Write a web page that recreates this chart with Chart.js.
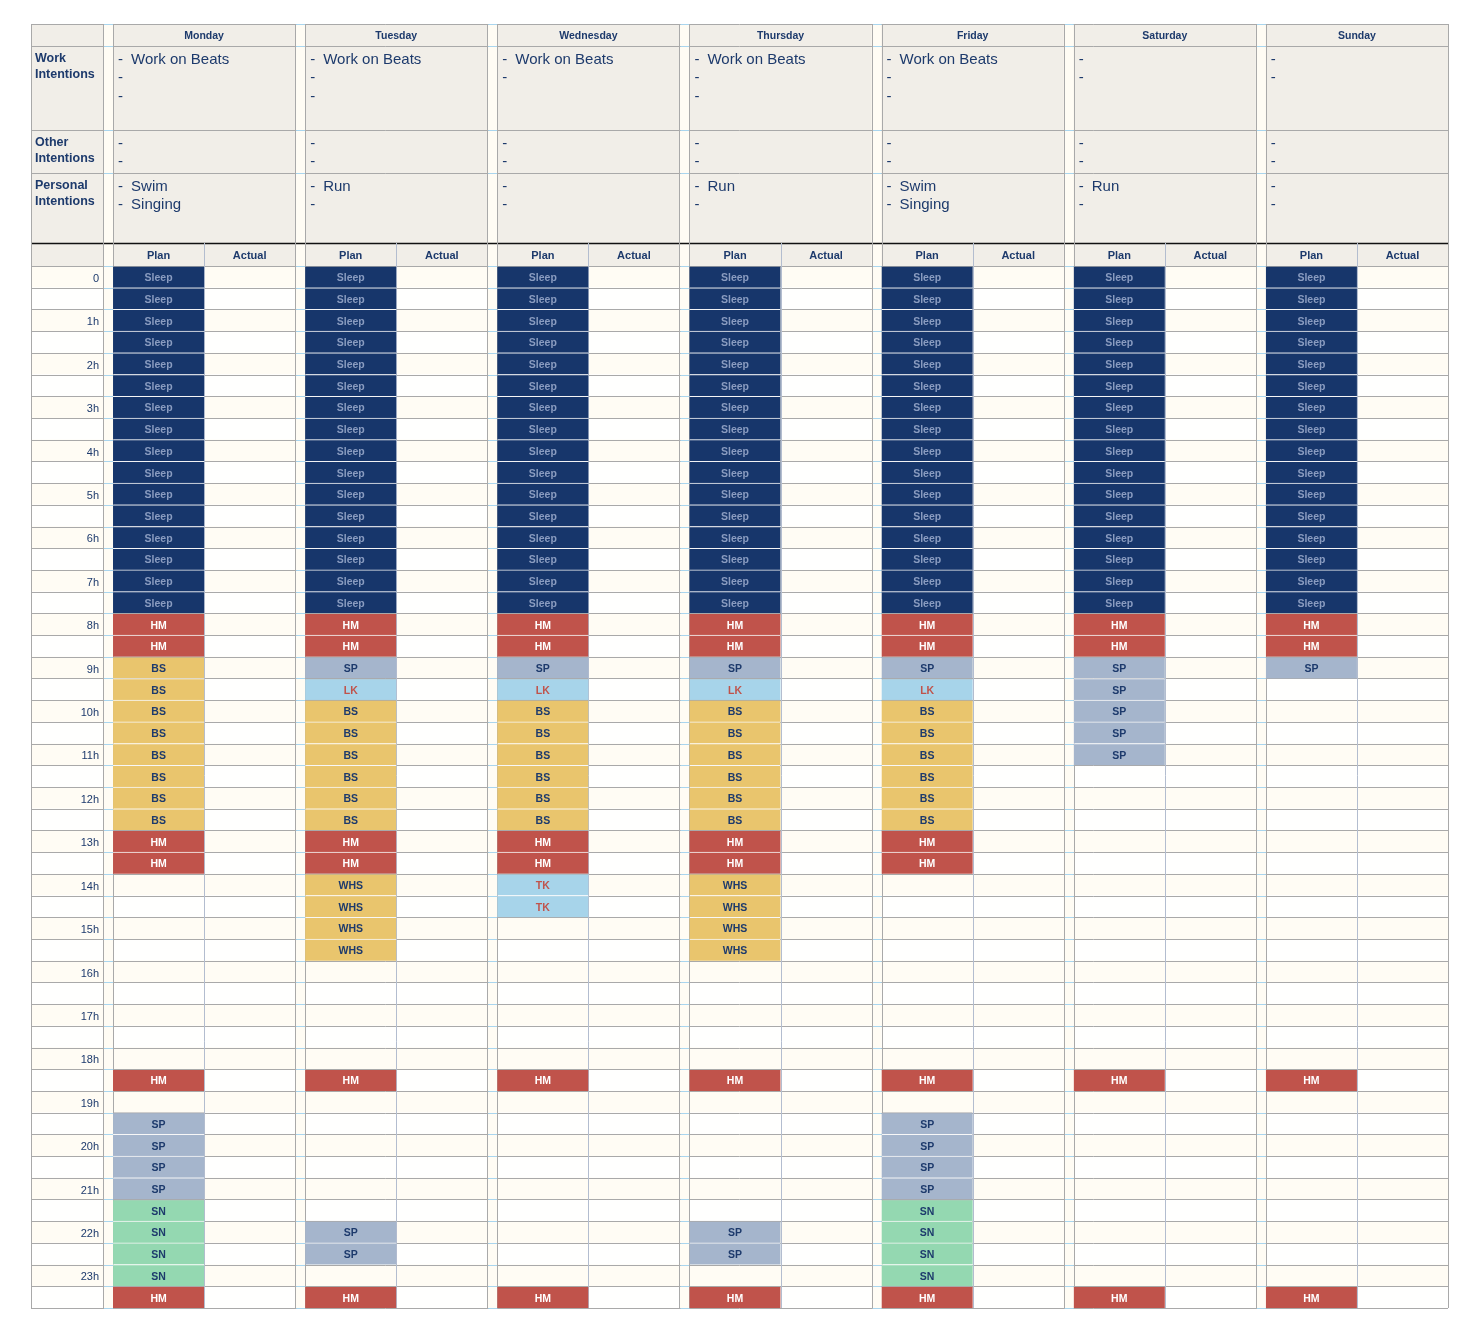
<!DOCTYPE html>
<html>
<head>
<meta charset="utf-8">
<title>Weekly planner</title>
<script src="https://cdn.jsdelivr.net/npm/chart.js@4.4.0/dist/chart.umd.min.js"></script>
<style>
  body { margin: 0; background: #fff; }
  #wrap { width: 1484px; height: 1338px; }
</style>
</head>
<body>
<div id="wrap"><canvas id="planner" width="1484" height="1338"></canvas></div>
<script>
// Data
const days = ['Monday', 'Tuesday', 'Wednesday', 'Thursday', 'Friday', 'Saturday', 'Sunday'];
const hourTicks = ['0', '1h', '2h', '3h', '4h', '5h', '6h', '7h', '8h', '9h', '10h', '11h',
  '12h', '13h', '14h', '15h', '16h', '17h', '18h', '19h', '20h', '21h', '22h', '23h'];
const sectionLabels = [['Work', 'Intentions'], ['Other', 'Intentions'], ['Personal', 'Intentions']];
const columnLabels = ['Plan', 'Actual'];

const workIntentions = [
  ['Work on Beats', '', ''], ['Work on Beats', '', ''], ['Work on Beats', ''],
  ['Work on Beats', '', ''], ['Work on Beats', '', ''], ['', ''], ['', '']
];
const otherIntentions = [['', ''], ['', ''], ['', ''], ['', ''], ['', ''], ['', ''], ['', '']];
const personalIntentions = [
  ['Swim', 'Singing'], ['Run', ''], ['', ''], ['Run', ''], ['Swim', 'Singing'], ['Run', ''], ['', '']
];

// plan per half hour, 48 slots from 0:00
const mondayPlan = [
  'Sleep', 'Sleep', 'Sleep', 'Sleep', 'Sleep', 'Sleep', 'Sleep', 'Sleep',
  'Sleep', 'Sleep', 'Sleep', 'Sleep', 'Sleep', 'Sleep', 'Sleep', 'Sleep',
  'HM', 'HM', 'BS', 'BS', 'BS', 'BS', 'BS', 'BS',
  'BS', 'BS', 'HM', 'HM', '', '', '', '',
  '', '', '', '', '', 'HM', '', 'SP',
  'SP', 'SP', 'SP', 'SN', 'SN', 'SN', 'SN', 'HM'
];
const tuesdayPlan = [
  'Sleep', 'Sleep', 'Sleep', 'Sleep', 'Sleep', 'Sleep', 'Sleep', 'Sleep',
  'Sleep', 'Sleep', 'Sleep', 'Sleep', 'Sleep', 'Sleep', 'Sleep', 'Sleep',
  'HM', 'HM', 'SP', 'LK', 'BS', 'BS', 'BS', 'BS',
  'BS', 'BS', 'HM', 'HM', 'WHS', 'WHS', 'WHS', 'WHS',
  '', '', '', '', '', 'HM', '', '',
  '', '', '', '', 'SP', 'SP', '', 'HM'
];
const wednesdayPlan = [
  'Sleep', 'Sleep', 'Sleep', 'Sleep', 'Sleep', 'Sleep', 'Sleep', 'Sleep',
  'Sleep', 'Sleep', 'Sleep', 'Sleep', 'Sleep', 'Sleep', 'Sleep', 'Sleep',
  'HM', 'HM', 'SP', 'LK', 'BS', 'BS', 'BS', 'BS',
  'BS', 'BS', 'HM', 'HM', 'TK', 'TK', '', '',
  '', '', '', '', '', 'HM', '', '',
  '', '', '', '', '', '', '', 'HM'
];
const thursdayPlan = [
  'Sleep', 'Sleep', 'Sleep', 'Sleep', 'Sleep', 'Sleep', 'Sleep', 'Sleep',
  'Sleep', 'Sleep', 'Sleep', 'Sleep', 'Sleep', 'Sleep', 'Sleep', 'Sleep',
  'HM', 'HM', 'SP', 'LK', 'BS', 'BS', 'BS', 'BS',
  'BS', 'BS', 'HM', 'HM', 'WHS', 'WHS', 'WHS', 'WHS',
  '', '', '', '', '', 'HM', '', '',
  '', '', '', '', 'SP', 'SP', '', 'HM'
];
const fridayPlan = [
  'Sleep', 'Sleep', 'Sleep', 'Sleep', 'Sleep', 'Sleep', 'Sleep', 'Sleep',
  'Sleep', 'Sleep', 'Sleep', 'Sleep', 'Sleep', 'Sleep', 'Sleep', 'Sleep',
  'HM', 'HM', 'SP', 'LK', 'BS', 'BS', 'BS', 'BS',
  'BS', 'BS', 'HM', 'HM', '', '', '', '',
  '', '', '', '', '', 'HM', '', 'SP',
  'SP', 'SP', 'SP', 'SN', 'SN', 'SN', 'SN', 'HM'
];
const saturdayPlan = [
  'Sleep', 'Sleep', 'Sleep', 'Sleep', 'Sleep', 'Sleep', 'Sleep', 'Sleep',
  'Sleep', 'Sleep', 'Sleep', 'Sleep', 'Sleep', 'Sleep', 'Sleep', 'Sleep',
  'HM', 'HM', 'SP', 'SP', 'SP', 'SP', 'SP', '',
  '', '', '', '', '', '', '', '',
  '', '', '', '', '', 'HM', '', '',
  '', '', '', '', '', '', '', 'HM'
];
const sundayPlan = [
  'Sleep', 'Sleep', 'Sleep', 'Sleep', 'Sleep', 'Sleep', 'Sleep', 'Sleep',
  'Sleep', 'Sleep', 'Sleep', 'Sleep', 'Sleep', 'Sleep', 'Sleep', 'Sleep',
  'HM', 'HM', 'SP', '', '', '', '', '',
  '', '', '', '', '', '', '', '',
  '', '', '', '', '', 'HM', '', '',
  '', '', '', '', '', '', '', 'HM'
];
const weekPlan = [mondayPlan, tuesdayPlan, wednesdayPlan, thursdayPlan, fridayPlan, saturdayPlan, sundayPlan];

// Layout / styles
const LABEL_W = 72, GAP_W = 10, CELL_W = 91;
const HEAD_ROWS = [22, 84, 43, 70, 23];
const FONT = '"Liberation Sans", Arial, sans-serif';
const NAVY = '#1d3a6c';
const HEAD_BG = '#f1eee8';
const CREAM = '#fffcf4';
const WHITE = '#fffffe';
const GRID = '#a9a9a9';
const BLUE_LINE = '#a9d5ee';
const SPLIT_LINE = '#b3bdcf';

const codeStyle = {
  Sleep: { fill: '#17366b', text: '#8a9cc0' },
  HM: { fill: '#c0534b', text: '#ffffff' },
  BS: { fill: '#e9c56d', text: NAVY },
  WHS: { fill: '#e9c56d', text: NAVY },
  SP: { fill: '#a5b5cc', text: NAVY },
  LK: { fill: '#a7d4ea', text: '#c0534b' },
  TK: { fill: '#a7d4ea', text: '#c0534b' },
  SN: { fill: '#94d8b1', text: NAVY }
};

const dayLeft = d => LABEL_W + GAP_W + d * (2 * CELL_W + GAP_W);
const slotIds = [];
hourTicks.forEach(h => { slotIds.push(h); slotIds.push(h + ':30'); });

const datasets = weekPlan.map((plan, d) => ({
  label: days[d],
  data: plan.map(c => c ? [dayLeft(d), dayLeft(d) + CELL_W] : null),
  backgroundColor: plan.map(c => c ? codeStyle[c].fill : 'transparent'),
  borderColor: plan.map((c, i) => (i > 0 && plan[i - 1] === c) ? 'rgba(255,255,255,0.9)' : GRID),
  borderWidth: { top: 1, bottom: 0, left: 0, right: 0 },
  borderSkipped: false,
  grouped: false,
  barPercentage: 1,
  categoryPercentage: 1
}));

function hLine(ctx, x1, x2, y, color) {
  ctx.strokeStyle = color;
  ctx.beginPath();
  ctx.moveTo(x1, Math.round(y) + 0.5);
  ctx.lineTo(x2, Math.round(y) + 0.5);
  ctx.stroke();
}
function vLine(ctx, x, y1, y2, color) {
  ctx.strokeStyle = color;
  ctx.beginPath();
  ctx.moveTo(Math.round(x) + 0.5, y1);
  ctx.lineTo(Math.round(x) + 0.5, y2);
  ctx.stroke();
}

const tablePlugin = {
  id: 'plannerTable',
  beforeDatasetsDraw(chart) {
    const { ctx, chartArea: a, scales: { x, y } } = chart;
    const px = v => x.getPixelForValue(v);
    const band = (a.bottom - a.top) / slotIds.length;
    const headTop = a.top - HEAD_ROWS.reduce((s, h) => s + h, 0);
    const gaps = [[LABEL_W, LABEL_W + GAP_W]];
    for (let d = 0; d < days.length - 1; d++) gaps.push([dayLeft(d) + 2 * CELL_W, dayLeft(d + 1)]);

    ctx.save();
    ctx.lineWidth = 1;

    // header background
    ctx.fillStyle = HEAD_BG;
    ctx.fillRect(a.left, headTop, a.right - a.left, a.top - headTop);

    // time rows background
    slotIds.forEach((s, i) => {
      ctx.fillStyle = i % 2 === 0 ? CREAM : WHITE;
      ctx.fillRect(a.left, y.getPixelForValue(i) - band / 2, a.right - a.left, band);
    });
    gaps.forEach(([g0, g1]) => {
      ctx.fillStyle = CREAM;
      ctx.fillRect(px(g0), headTop, px(g1) - px(g0), a.bottom - headTop);
    });

    // horizontal lines
    const rowEdges = [headTop];
    HEAD_ROWS.reduce((acc, h) => { rowEdges.push(acc + h); return acc + h; }, headTop);
    for (let i = 1; i <= slotIds.length; i++) rowEdges.push(y.getPixelForValue(i - 1) + band / 2);
    rowEdges.forEach(ry => {
      hLine(ctx, a.left, a.right, ry, GRID);
      gaps.forEach(([g0, g1]) => hLine(ctx, px(g0) + 1, px(g1), ry, BLUE_LINE));
    });
    // heavy line over the Plan / Actual row
    ctx.lineWidth = 1.4;
    hLine(ctx, a.left, a.right, a.top - HEAD_ROWS[4], '#111111');
    ctx.lineWidth = 1;

    // vertical lines
    const splitTop = a.top - HEAD_ROWS[4];
    vLine(ctx, a.left, headTop, a.bottom, GRID);
    vLine(ctx, px(LABEL_W), headTop, a.bottom, GRID);
    vLine(ctx, px(LABEL_W + GAP_W), headTop, a.bottom, GRID);
    days.forEach((dn, d) => {
      vLine(ctx, px(dayLeft(d) + CELL_W), splitTop, a.bottom, SPLIT_LINE);
      vLine(ctx, px(dayLeft(d) + 2 * CELL_W), headTop, a.bottom, GRID);
      vLine(ctx, px(dayLeft(d)), headTop, a.bottom, GRID);
    });

    // header texts
    ctx.textBaseline = 'middle';
    ctx.fillStyle = NAVY;
    const rowTop = k => headTop + HEAD_ROWS.slice(0, k).reduce((s, h) => s + h, 0);

    ctx.textAlign = 'center';
    days.forEach((dn, d) => {
      ctx.font = 'bold 10.5px ' + FONT;
      ctx.fillText(dn, px(dayLeft(d) + CELL_W), rowTop(0) + HEAD_ROWS[0] / 2 + 1.5);
      ctx.font = 'bold 11px ' + FONT;
      columnLabels.forEach((cl, c) => {
        ctx.fillText(cl, px(dayLeft(d) + CELL_W * (c + 0.5)), rowTop(4) + HEAD_ROWS[4] / 2 + 1);
      });
    });

    ctx.textAlign = 'left';
    ctx.font = 'bold 12.5px ' + FONT;
    sectionLabels.forEach((lines, k) => {
      lines.forEach((t, j) => ctx.fillText(t, px(0) + 4, rowTop(k + 1) + 13 + j * 15.7));
    });

    [workIntentions, otherIntentions, personalIntentions].forEach((section, k) => {
      section.forEach((lines, d) => {
        lines.forEach((t, j) => {
          const ly = rowTop(k + 1) + 14 + j * 18.3;
          ctx.font = '15px ' + FONT;
          ctx.fillText('-', px(dayLeft(d)) + 5, ly);
          if (t) ctx.fillText(t, px(dayLeft(d)) + 18, ly);
        });
      });
    });

    // hour ticks
    ctx.textAlign = 'right';
    ctx.font = '11px ' + FONT;
    hourTicks.forEach((h, k) => ctx.fillText(h, px(LABEL_W) - 4, y.getPixelForValue(2 * k) + 2));

    ctx.restore();
  },
  afterDatasetsDraw(chart) {
    const { ctx } = chart;
    ctx.save();
    ctx.textAlign = 'center';
    ctx.textBaseline = 'middle';
    ctx.font = 'bold 10.5px ' + FONT;
    weekPlan.forEach((plan, d) => {
      const meta = chart.getDatasetMeta(d);
      meta.data.forEach((el, i) => {
        const code = plan[i];
        if (!code) return;
        ctx.fillStyle = codeStyle[code].text;
        ctx.fillText(code, (el.x + el.base) / 2, el.y + 1.5);
      });
    });
    ctx.restore();
  }
};

new Chart(document.getElementById('planner'), {
  type: 'bar',
  data: { labels: slotIds, datasets: datasets },
  options: {
    indexAxis: 'y',
    responsive: false,
    animation: false,
    layout: { padding: { left: 31, right: 36, top: 266, bottom: 30 } },
    scales: {
      x: { type: 'linear', min: 0, max: LABEL_W + GAP_W + 7 * 2 * CELL_W + 6 * GAP_W, display: false },
      y: { type: 'category', display: false, offset: true }
    },
    plugins: {
      legend: { display: false },
      tooltip: { enabled: false }
    }
  },
  plugins: [tablePlugin]
});
</script>
</body>
</html>
